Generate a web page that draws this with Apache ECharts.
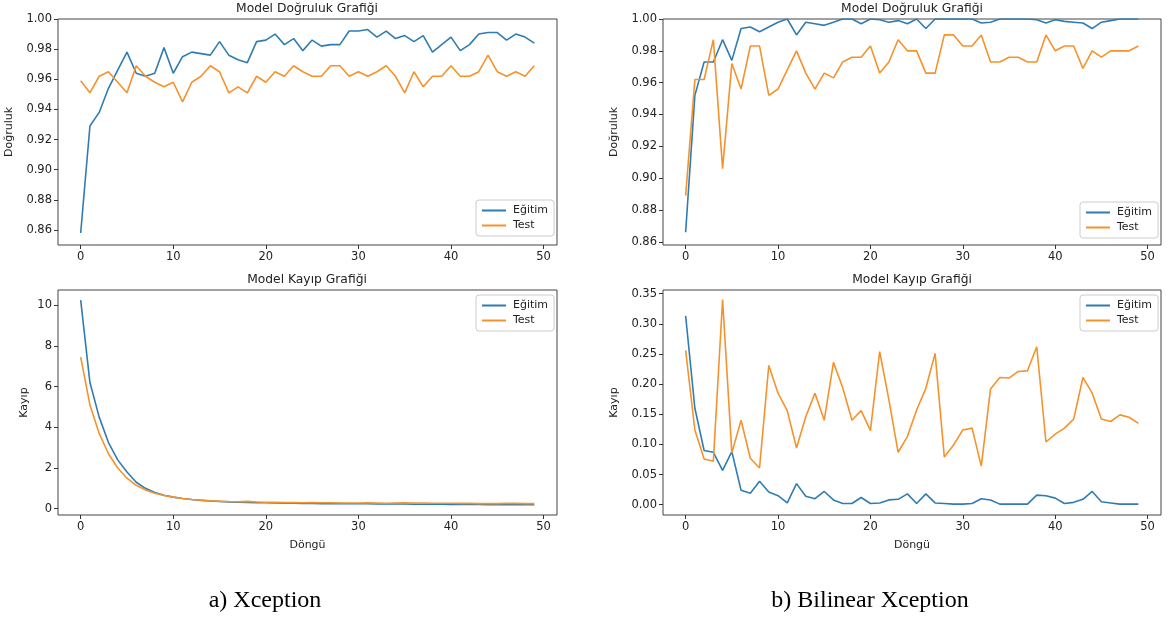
<!DOCTYPE html>
<html><head><meta charset="utf-8">
<script src="https://cdn.jsdelivr.net/npm/echarts@6/dist/echarts.min.js"></script>
<style>html,body{margin:0;padding:0;background:#fff}#c{width:1169px;height:624px}</style>
</head><body><div id="c"></div>
<script>
const epochs = [0,1,2,3,4,5,6,7,8,9,10,11,12,13,14,15,16,17,18,19,20,21,22,23,24,25,26,27,28,29,30,31,32,33,34,35,36,37,38,39,40,41,42,43,44,45,46,47,48,49];

// a) Xception
const xcAccTrain = [0.858,0.929,0.938,0.954,0.966,0.978,0.964,0.962,0.964,0.981,0.964,0.975,0.978,0.977,0.976,0.985,0.976,0.973,0.971,0.985,0.986,0.990,0.983,0.987,0.979,0.986,0.982,0.983,0.983,0.992,0.992,0.993,0.988,0.992,0.987,0.989,0.985,0.989,0.978,0.983,0.988,0.979,0.983,0.990,0.991,0.991,0.986,0.990,0.988,0.984];
const xcAccTest  = [0.959,0.951,0.962,0.965,0.958,0.951,0.969,0.962,0.958,0.955,0.958,0.945,0.958,0.962,0.969,0.965,0.951,0.955,0.951,0.962,0.958,0.965,0.962,0.969,0.965,0.962,0.962,0.969,0.969,0.962,0.965,0.962,0.965,0.969,0.962,0.951,0.965,0.955,0.962,0.962,0.969,0.962,0.962,0.965,0.976,0.965,0.962,0.965,0.962,0.969];
const xcLossTrain = [10.25,6.2,4.5,3.25,2.4,1.8,1.3,1.0,0.8,0.66,0.57,0.5,0.45,0.41,0.38,0.35,0.33,0.32,0.31,0.3,0.29,0.28,0.27,0.27,0.26,0.26,0.25,0.25,0.25,0.24,0.24,0.24,0.23,0.23,0.23,0.23,0.22,0.22,0.22,0.22,0.21,0.21,0.21,0.21,0.2,0.2,0.2,0.2,0.2,0.2];
const xcLossTest  = [7.45,5.1,3.7,2.7,2.0,1.5,1.15,0.92,0.76,0.65,0.57,0.5,0.45,0.42,0.39,0.37,0.35,0.34,0.36,0.33,0.32,0.31,0.3,0.3,0.29,0.3,0.29,0.29,0.28,0.28,0.28,0.29,0.28,0.27,0.28,0.29,0.28,0.28,0.27,0.27,0.27,0.26,0.26,0.25,0.25,0.25,0.26,0.26,0.25,0.25];

// b) Bilinear Xception
const bxAccTrain = [0.866,0.952,0.973,0.973,0.987,0.974,0.994,0.995,0.992,0.995,0.998,1.0,0.990,0.998,0.997,0.996,0.998,1.0,1.0,0.997,1.0,0.9995,0.998,0.999,0.997,1.0,0.994,1.0,1.0,1.0,1.0,1.0,0.9975,0.998,1.0,1.0,1.0,1.0,0.9995,0.9975,0.9995,0.9985,0.998,0.9975,0.994,0.998,0.999,1.0,1.0,1.0];
const bxAccTest  = [0.889,0.962,0.962,0.987,0.906,0.972,0.956,0.983,0.983,0.952,0.956,0.968,0.980,0.966,0.956,0.966,0.963,0.973,0.976,0.976,0.983,0.966,0.973,0.987,0.980,0.980,0.966,0.966,0.990,0.990,0.983,0.983,0.990,0.973,0.973,0.976,0.976,0.973,0.973,0.990,0.980,0.983,0.983,0.969,0.980,0.976,0.980,0.980,0.980,0.983];
const bxLossTrain = [0.313,0.160,0.090,0.087,0.057,0.088,0.024,0.019,0.039,0.021,0.015,0.003,0.035,0.014,0.010,0.022,0.008,0.002,0.002,0.012,0.002,0.003,0.008,0.009,0.018,0.002,0.018,0.003,0.002,0.001,0.001,0.002,0.010,0.008,0.001,0.001,0.001,0.001,0.016,0.015,0.011,0.002,0.004,0.009,0.022,0.005,0.003,0.001,0.001,0.001];
const bxLossTest  = [0.256,0.124,0.076,0.072,0.340,0.086,0.140,0.077,0.061,0.231,0.185,0.156,0.094,0.146,0.185,0.140,0.236,0.194,0.140,0.156,0.123,0.254,0.174,0.087,0.113,0.157,0.193,0.251,0.079,0.099,0.124,0.127,0.064,0.192,0.211,0.210,0.221,0.222,0.262,0.104,0.117,0.127,0.142,0.211,0.185,0.142,0.138,0.149,0.145,0.135];

const xTicks = [0,10,20,30,40,50];
const accTicks = [0.86,0.88,0.90,0.92,0.94,0.96,0.98,1.00];
const xcLossTicks = [0,2,4,6,8,10];
const bxLossTicks = [0,0.05,0.10,0.15,0.20,0.25,0.30,0.35];

const seriesNames = ['Eğitim','Test'];
const titles = ['Model Doğruluk Grafiği','Model Kayıp Grafiği'];
const captions = ['a) Xception','b) Bilinear Xception'];

const BLUE = '#2f7cb3', ORANGE = '#f6922c';
const FONT = 'DejaVu Sans';
const grids = [
  {left:58, top:19, width:499, height:226},
  {left:663, top:19, width:498, height:226},
  {left:58, top:290, width:499, height:225},
  {left:663, top:290, width:498, height:225}
];
function xAx(i, named){
  return {type:'value', gridIndex:i, min:-2.45, max:51.45, position:'bottom',
    name: named ? 'Döngü' : '', nameLocation:'middle', nameGap:25,
    nameTextStyle:{fontFamily:FONT, fontSize:11, color:'#222'},
    axisLine:{show:false, onZero:false}, splitLine:{show:false},
    axisTick:{show:true, length:4, lineStyle:{color:'#333'}, customValues:xTicks},
    axisLabel:{fontFamily:FONT, fontSize:11.5, color:'#222', margin:6, customValues:xTicks}};
}
function yAx(i, min, max, ticks, dec, name, gap){
  return {type:'value', gridIndex:i, min:min, max:max, position:'left',
    name:name, nameLocation:'middle', nameGap:gap, nameRotate:90,
    nameTextStyle:{fontFamily:FONT, fontSize:11, color:'#222'},
    axisLine:{show:false, onZero:false}, splitLine:{show:false},
    axisTick:{show:true, length:4, lineStyle:{color:'#333'}, customValues:ticks},
    axisLabel:{fontFamily:FONT, fontSize:11.5, color:'#222', margin:6, customValues:ticks,
      formatter:v=>Number(v).toFixed(dec)}};
}
function ser(name, vals, idx, color){
  return {type:'line', name:name, xAxisIndex:idx, yAxisIndex:idx, symbol:'none',
    data: vals.map((v,k)=>[epochs[k], v]), lineStyle:{color:color, width:1.6}, itemStyle:{color:color}, animation:false};
}
function leg(left, top){
  return {left:left, top:top, orient:'vertical', data:seriesNames, icon:'rect', itemWidth:24, itemHeight:2,
    itemGap:4, padding:[5,6,5,6], borderColor:'#ccc', borderWidth:1, borderRadius:3, backgroundColor:'#fff',
    selectedMode:false, textStyle:{fontFamily:FONT, fontSize:11, color:'#222', padding:[0,0,0,2]}};
}
const tStyle = {fontFamily:FONT, fontSize:12.3, fontWeight:'normal', color:'#222'};
const cStyle = {fontFamily:'Liberation Serif', fontSize:24, fontWeight:'normal', color:'#000'};
const chart = echarts.init(document.getElementById('c'));
chart.setOption({
  animation:false,
  backgroundColor:'#fff',
  title:[
    {text:titles[0], left:307, top:3, textAlign:'center', padding:0, textStyle:tStyle},
    {text:titles[0], left:912, top:3, textAlign:'center', padding:0, textStyle:tStyle},
    {text:titles[1], left:307, top:274, textAlign:'center', padding:0, textStyle:tStyle},
    {text:titles[1], left:912, top:274, textAlign:'center', padding:0, textStyle:tStyle},
    {text:captions[0], left:265, top:589, textAlign:'center', padding:0, textStyle:cStyle},
    {text:captions[1], left:870, top:589, textAlign:'center', padding:0, textStyle:cStyle}
  ],
  grid: grids.map(g=>Object.assign({show:true, borderColor:'#444', borderWidth:1, backgroundColor:'transparent'}, g)),
  xAxis:[xAx(0,false), xAx(1,false), xAx(2,true), xAx(3,true)],
  yAxis:[
    yAx(0, 0.85, 1.0, accTicks, 2, 'Doğruluk', 43),
    yAx(1, 0.858, 1.0, accTicks, 2, 'Doğruluk', 43),
    yAx(2, -0.31, 10.75, xcLossTicks, 0, 'Kayıp', 28),
    yAx(3, -0.017, 0.356, bxLossTicks, 2, 'Kayıp', 43)
  ],
  legend:[leg(476,200), leg(1080,202), leg(476,295), leg(1080,295)],
  series:[
    ser(seriesNames[0], xcAccTrain, 0, BLUE), ser(seriesNames[1], xcAccTest, 0, ORANGE),
    ser(seriesNames[0], bxAccTrain, 1, BLUE), ser(seriesNames[1], bxAccTest, 1, ORANGE),
    ser(seriesNames[0], xcLossTrain, 2, BLUE), ser(seriesNames[1], xcLossTest, 2, ORANGE),
    ser(seriesNames[0], bxLossTrain, 3, BLUE), ser(seriesNames[1], bxLossTest, 3, ORANGE)
  ]
});
</script></body></html>
